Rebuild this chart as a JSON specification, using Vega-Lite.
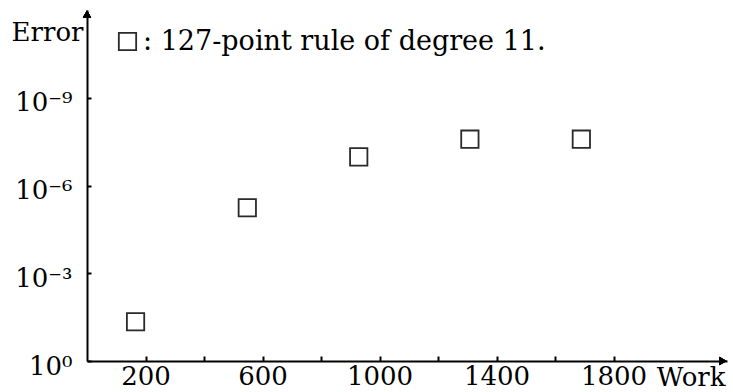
{
  "$schema": "https://vega.github.io/schema/vega-lite/v6.json",
  "width": 640,
  "height": 351,
  "autosize": {"type": "none"},
  "padding": {"left": 87, "top": 10, "right": 6, "bottom": 31},
  "background": "white",
  "config": {
    "view": {"stroke": null},
    "font": "DejaVu Serif",
    "axis": {
      "domainColor": "black",
      "domainWidth": 2,
      "tickColor": "black",
      "tickWidth": 2,
      "grid": false,
      "labelFont": "DejaVu Serif",
      "labelFontSize": 26,
      "labelColor": "black",
      "titleFont": "DejaVu Serif",
      "titleFontSize": 26,
      "titleFontWeight": "normal",
      "titleColor": "black"
    }
  },
  "data": {
    "values": [
      {"work": 166, "error": 0.0454, "series": "127-point rule of degree 11."},
      {"work": 548, "error": 5.75e-6, "series": "127-point rule of degree 11."},
      {"work": 929, "error": 1.05e-7, "series": "127-point rule of degree 11."},
      {"work": 1309, "error": 2.6e-8, "series": "127-point rule of degree 11."},
      {"work": 1690, "error": 2.6e-8, "series": "127-point rule of degree 11."}
    ]
  },
  "layer": [
    {
      "mark": {"type": "point", "filled": false, "stroke": "#2a2a2a", "strokeWidth": 1.8, "size": 300, "opacity": 1},
      "encoding": {
        "x": {
          "field": "work", "type": "quantitative",
          "scale": {"domain": [0, 2188], "nice": false, "zero": false},
          "axis": {
            "values": [200, 400, 600, 800, 1000, 1200, 1400, 1600, 1800],
            "format": "d",
            "labelExpr": "datum.value % 400 == 200 ? datum.label : ''",
            "tickSize": -5,
            "labelBaseline": "alphabetic",
            "labelPadding": 28,
            "labelFlush": false,
            "labelOverlap": false,
            "title": "Work",
            "titleAnchor": "end",
            "titleAlign": "right",
            "titleBaseline": "alphabetic",
            "titleX": 638,
            "titleY": 24
          }
        },
        "y": {
          "field": "error", "type": "quantitative",
          "scale": {"type": "log", "domain": [1, 1e-12], "nice": false, "zero": false},
          "axis": {
            "values": [1e-9, 1e-6, 1e-3, 1],
            "labelExpr": "'10' + (datum.value > 0.5 ? '⁰' : datum.value < 1e-8 ? '⁻⁹' : datum.value < 1e-5 ? '⁻⁶' : '⁻³')",
            "tickSize": -4,
            "labelPadding": 19,
            "labelBaseline": "middle",
            "labelOffset": 5,
            "labelFlush": false,
            "labelOverlap": false,
            "title": "Error",
            "titleAngle": 0,
            "titleAlign": "right",
            "titleBaseline": "alphabetic",
            "titleX": -4,
            "titleY": 30
          }
        },
        "shape": {
          "field": "series", "type": "nominal",
          "scale": {"range": ["square"]},
          "legend": {
            "orient": "none",
            "legendX": 27,
            "legendY": 18,
            "title": null,
            "labelExpr": "': ' + datum.label",
            "labelFont": "DejaVu Serif",
            "labelFontSize": 27,
            "labelColor": "black",
            "labelLimit": 700,
            "symbolSize": 300,
            "symbolStrokeWidth": 1.8,
            "symbolStrokeColor": "#2a2a2a",
            "symbolFillColor": "transparent",
            "symbolOpacity": 1,
            "labelOffset": 2
          }
        }
      }
    },
    {
      "mark": {"type": "point", "shape": "triangle-right", "filled": true, "color": "black", "size": 70, "opacity": 1, "xOffset": -4},
      "encoding": {
        "x": {"datum": 2188, "type": "quantitative"},
        "y": {"datum": 1, "type": "quantitative"}
      }
    },
    {
      "mark": {"type": "point", "shape": "triangle-up", "filled": true, "color": "black", "size": 70, "opacity": 1, "yOffset": 4},
      "encoding": {
        "x": {"datum": 0, "type": "quantitative"},
        "y": {"datum": 1e-12, "type": "quantitative"}
      }
    }
  ]
}
